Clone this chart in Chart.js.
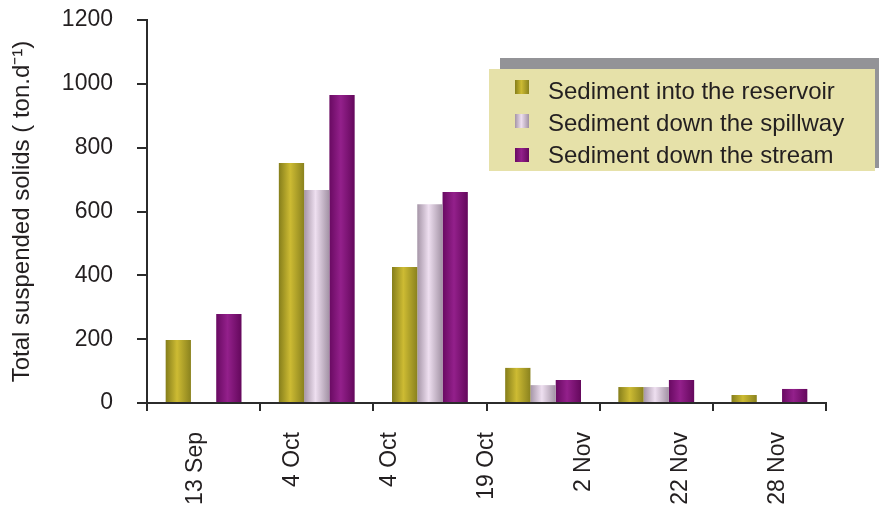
<!DOCTYPE html>
<html>
<head>
<meta charset="utf-8">
<script src="https://cdn.jsdelivr.net/npm/chart.js@4.4.1/dist/chart.umd.min.js"></script>
<style>
  html, body { margin: 0; padding: 0; background: #fff; }
  #wrap { width: 879px; height: 509px; }
</style>
</head>
<body>
<div id="wrap"><canvas id="tssChart" width="879" height="509"></canvas></div>
<script>
// sampling groups (bars) and the date labels printed under the axis
const groups = ["S1", "S2", "S3", "S4", "S5", "S6"];
const dateLabels = ["13 Sep", "4 Oct", "4 Oct", "19 Oct", "2 Nov", "22 Nov", "28 Nov"];

// total suspended solids, ton/day
const intoReservoir = [197, 752, 426, 110, 50, 25];
const downSpillway = [0, 667, 623, 56, 50, 0];
const downStream = [279, 965, 661, 72, 72, 44];

const yMin = 0, yMax = 1200, yStep = 200;

const FONT = '"Liberation Sans", Arial, sans-serif';
const INK = "#231f20";
const AXIS = "#2b2b2b";

Chart.defaults.font.family = FONT;
Chart.defaults.font.size = 23;
Chart.defaults.color = INK;

// edge / middle colours for the cylinder look
const shades = {
  olive: { edge: "#857e1b", mid: "#cdbb33", end: "#8a821e" },
  lilac: { edge: "#a595a7", mid: "#eedff0", end: "#a292a4" },
  plum:  { edge: "#690a62", mid: "#93208b", end: "#64085c" }
};

function barShade(ctx, x0, x1, c) {
  const g = ctx.createLinearGradient(x0, 0, x1, 0);
  g.addColorStop(0, c.edge);
  g.addColorStop(0.45, c.mid);
  g.addColorStop(1, c.end);
  return g;
}

// repaint every bar with a horizontal gradient sized to the bar
const cylinderShade = {
  id: "cylinderShade",
  beforeDatasetsDraw(chart) {
    chart.data.datasets.forEach((ds, i) => {
      chart.getDatasetMeta(i).data.forEach(bar => {
        const half = bar.width / 2;
        bar.options.backgroundColor = barShade(chart.ctx, bar.x - half, bar.x + half, ds.shade);
      });
    });
  }
};

// boxed legend with drop shadow
const boxLegend = {
  id: "boxLegend",
  afterDraw(chart) {
    const ctx = chart.ctx;
    ctx.save();
    ctx.fillStyle = "#939397";
    ctx.fillRect(500, 58, 379, 110);
    ctx.fillStyle = "#e6e1a9";
    ctx.fillRect(489, 69, 386, 102);
    ctx.font = "24px " + FONT;
    ctx.textBaseline = "middle";
    chart.data.datasets.forEach((ds, i) => {
      const ys = 87 + i * 34;
      ctx.fillStyle = barShade(ctx, 515, 529, ds.shade);
      ctx.fillRect(515, ys - 7, 14, 14);
      ctx.fillStyle = INK;
      ctx.fillText(ds.label, 548, 92 + i * 32);
    });
    ctx.restore();
  }
};

function series(label, data, shade) {
  return {
    label: label,
    data: data,
    shade: shade,
    backgroundColor: () => shade.mid,
    borderWidth: 0,
    categoryPercentage: 0.67,
    barPercentage: 1.0
  };
}

new Chart(document.getElementById("tssChart"), {
  type: "bar",
  data: {
    labels: groups,
    datasets: [
      series("Sediment into the reservoir", intoReservoir, shades.olive),
      series("Sediment down the spillway", downSpillway, shades.lilac),
      series("Sediment down the stream", downStream, shades.plum)
    ]
  },
  plugins: [cylinderShade, boxLegend],
  options: {
    responsive: false,
    animation: false,
    layout: { padding: { top: 20, right: 53, left: 0, bottom: 0 } },
    plugins: {
      legend: { display: false },
      tooltip: { enabled: false }
    },
    scales: {
      x: {
        weight: 0,
        grid: { offset: true, drawOnChartArea: false, tickLength: 8, color: AXIS, lineWidth: 2 },
        border: { color: AXIS, width: 2 },
        ticks: { display: false },
        afterFit(s) { s.height = 10; }
      },
      x2: {
        type: "category",
        labels: dateLabels,
        position: "bottom",
        weight: 1,
        offset: true,
        grid: { display: false, drawTicks: false },
        border: { display: false },
        ticks: { autoSkip: false, minRotation: 90, maxRotation: 90, padding: 19, color: INK },
        afterFit(s) {
          s.height = 96;
          s.paddingLeft = 0;
          s.paddingRight = 0;
        }
      },
      y: {
        min: yMin,
        max: yMax,
        ticks: { stepSize: yStep, padding: 24, color: INK, callback: v => String(v) },
        grid: { drawOnChartArea: false, tickLength: 10, color: AXIS, lineWidth: 2 },
        border: { color: AXIS, width: 2 },
        title: {
          display: true,
          text: "Total suspended solids ( ton.d\u207B\u00B9)",
          color: INK,
          font: { size: 24 },
          padding: { top: 8, bottom: 0 }
        },
        afterFit(s) {
          s.width = 147;
          s.paddingTop = 0;
          s.paddingBottom = 0;
        }
      }
    }
  }
});
</script>
</body>
</html>
